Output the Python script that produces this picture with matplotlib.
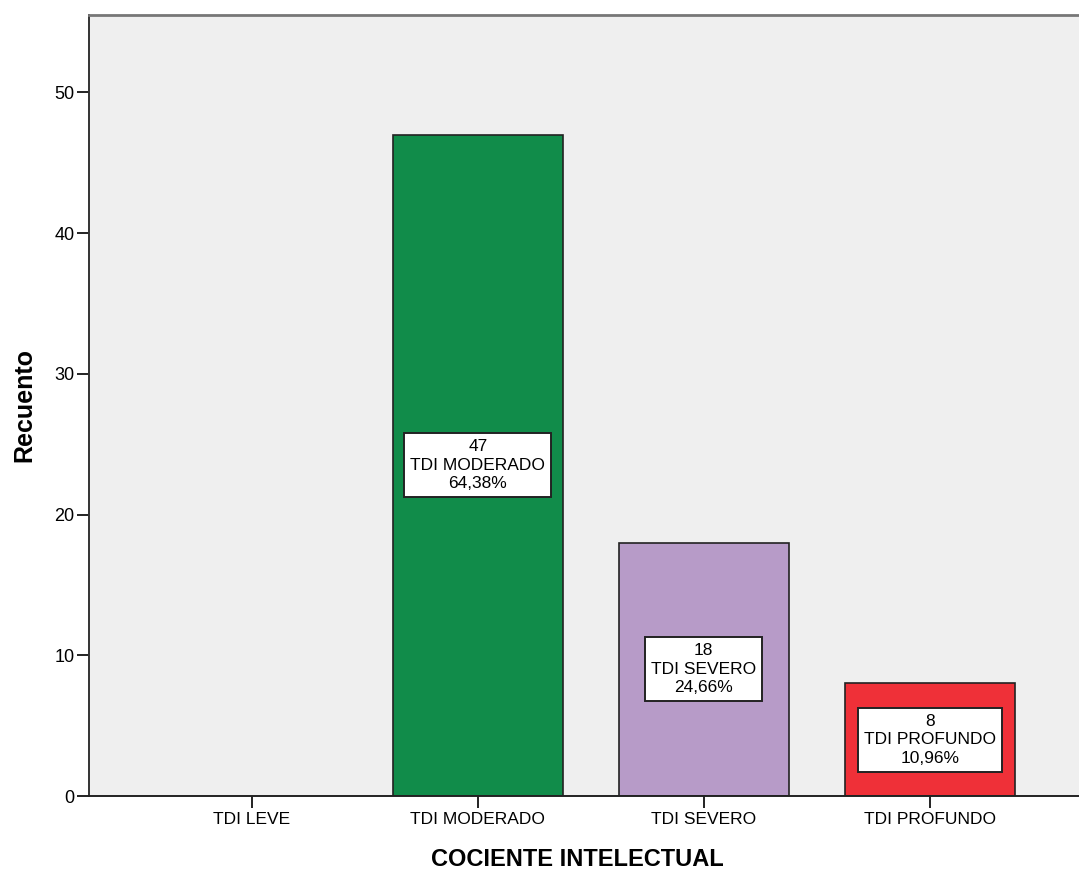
import matplotlib
matplotlib.use("Agg")
import matplotlib.pyplot as plt

categories = ["TDI LEVE", "TDI MODERADO", "TDI SEVERO", "TDI PROFUNDO"]
counts = [0, 47, 18, 8]
percents = ["", "64,38%", "24,66%", "10,96%"]
colors = ["#118c4a", "#118c4a", "#b79bc8", "#ef3038"]
yticks = [0, 10, 20, 30, 40, 50]

plt.rcParams['font.family'] = ['Liberation Sans', 'DejaVu Sans']

W, H = 1079, 872
fig = plt.figure(figsize=(W / 100, H / 100), dpi=100)
ax = fig.add_axes([89 / W, 76 / H, 1 - 89 / W, (796 - 15) / H])
ax.set_facecolor("#efefef")

x = list(range(len(categories)))
for i, (c, col) in enumerate(zip(counts, colors)):
    if c > 0:
        ax.bar(i, c, width=0.75, color=col, edgecolor="#222222", linewidth=1.2, zorder=2)
        ax.text(i, c / 2, f"{c}\n{categories[i]}\n{percents[i]}", ha="center", va="center",
                fontsize=12.5, linespacing=1.3, zorder=3,
                bbox=dict(boxstyle="square,pad=0.34", facecolor="white", edgecolor="#222222", linewidth=1.4))

ax.set_xlim(-0.72, 3.66)
ax.set_ylim(0, 55.5)
ax.set_xticks(x)
ax.set_xticklabels(categories, fontsize=12.5)
ax.set_yticks(yticks)
ax.set_yticklabels([str(v) for v in yticks], fontsize=13)
ax.tick_params(axis="both", direction="out", length=8.5, width=1.4, color="#222222", pad=2)
ax.tick_params(axis="x", pad=3)

ax.spines["right"].set_visible(False)
ax.spines["top"].set_color("#777777")
ax.spines["top"].set_linewidth(2)
ax.spines["left"].set_color("#333333")
ax.spines["left"].set_linewidth(1.4)
ax.spines["bottom"].set_color("#222222")
ax.spines["bottom"].set_linewidth(1.4)

fig.text(577 / W, 1 - 866 / H, "COCIENTE INTELECTUAL", fontsize=17, fontweight="bold",
         ha="center", va="baseline")
fig.text(24 / W, 1 - 405 / H, "Recuento", fontsize=18, fontweight="bold",
         ha="center", va="center", rotation=90)

fig.savefig("out.png", dpi=100)
